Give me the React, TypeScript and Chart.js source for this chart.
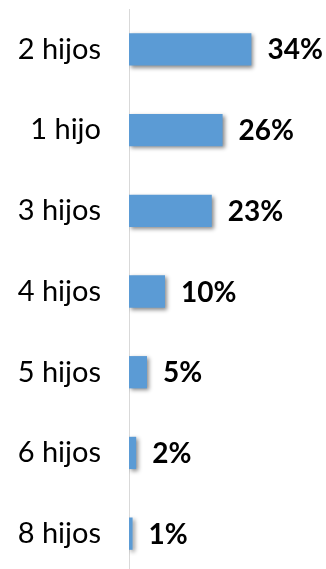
import React, { useEffect, useRef } from "react";
import { Chart, registerables } from "chart.js";

Chart.register(...registerables);

const categories = ["2 hijos", "1 hijo", "3 hijos", "4 hijos", "5 hijos", "6 hijos", "8 hijos"];
const values = [34, 26, 23, 10, 5, 2, 1];
const valueLabels = ["34%", "26%", "23%", "10%", "5%", "2%", "1%"];

const FONT = "Lato, 'DejaVu Sans', sans-serif";

const shadowPlugin = {
  id: "barShadow",
  beforeDatasetsDraw(chart: any) {
    const ctx = chart.ctx;
    ctx.save();
    ctx.shadowColor = "rgba(0,0,0,0.45)";
    ctx.shadowBlur = 4;
    ctx.shadowOffsetX = 2;
    ctx.shadowOffsetY = 2;
  },
  afterDatasetsDraw(chart: any) {
    chart.ctx.restore();
  },
};

const labelPlugin = {
  id: "valueLabels",
  afterDraw(chart: any) {
    const ctx = chart.ctx;
    const meta = chart.getDatasetMeta(0);
    ctx.save();
    ctx.font = `bold 28px ${FONT}`;
    ctx.fillStyle = "#000";
    ctx.textAlign = "left";
    ctx.textBaseline = "middle";
    meta.data.forEach((bar: any, i: number) => {
      ctx.fillText(valueLabels[i], bar.x + 16, bar.y + 1);
    });
    ctx.restore();
  },
};

export default function App() {
  const ref = useRef<HTMLCanvasElement>(null);
  useEffect(() => {
    if (!ref.current) return;
    const chart = new Chart(ref.current, {
      type: "bar",
      data: {
        labels: categories,
        datasets: [
          {
            data: values,
            backgroundColor: "#5B9BD5",
            borderWidth: 0,
            categoryPercentage: 1,
            barPercentage: 0.4,
          },
        ],
      },
      options: {
        indexAxis: "y",
        animation: false,
        responsive: false,
        maintainAspectRatio: false,
        layout: { padding: { top: 9, right: 53, bottom: 1, left: 0 } },
        plugins: { legend: { display: false }, tooltip: { enabled: false } },
        scales: {
          x: { display: false, min: 0, max: 40 },
          y: {
            afterFit(scale: any) {
              scale.width = 129;
              scale.paddingTop = 0;
              scale.paddingBottom = 0;
            },
            grid: { display: false, drawTicks: false },
            border: { display: true, color: "#d9d9d9", width: 1 },
            ticks: {
              padding: 28,
              color: "#000",
              font: { family: FONT, size: 29 },
            },
          },
        },
      },
      plugins: [shadowPlugin, labelPlugin],
    });
    return () => chart.destroy();
  }, []);
  return (
    <div style={{ position: "fixed", left: 0, top: 0, width: 326, height: 575, background: "#fff" }}>
      <canvas ref={ref} width={326} height={575} style={{ width: 326, height: 575 }} />
    </div>
  );
}
